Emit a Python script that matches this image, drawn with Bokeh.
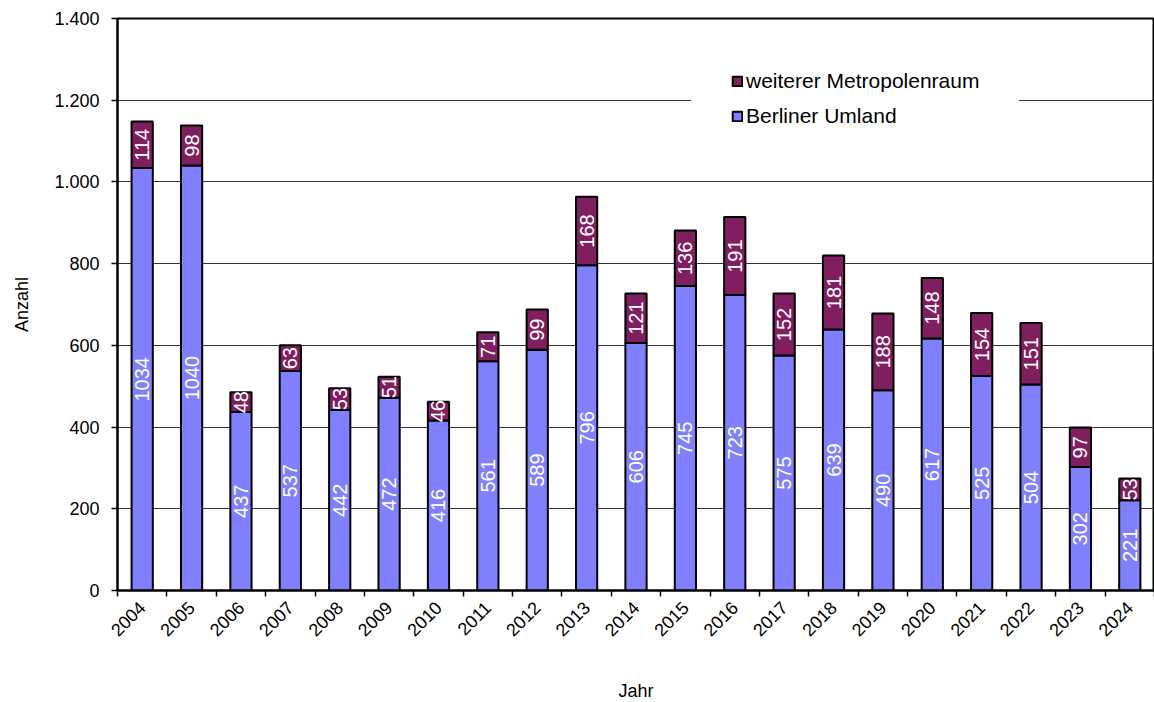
import math
from bokeh.plotting import figure
from bokeh.models import (ColumnDataSource, FixedTicker, CustomJSTickFormatter, Legend, LegendItem, Range1d)
from bokeh.core.properties import value
from bokeh.embed import file_html
from bokeh.resources import INLINE

years = ["2004", "2005", "2006", "2007", "2008", "2009", "2010", "2011", "2012", "2013", "2014",
         "2015", "2016", "2017", "2018", "2019", "2020", "2021", "2022", "2023", "2024"]
umland = [1034, 1040, 437, 537, 442, 472, 416, 561, 589, 796, 606, 745, 723, 575, 639, 490, 617, 525, 504, 302, 221]
weiterer = [114, 98, 48, 63, 53, 51, 46, 71, 99, 168, 121, 136, 191, 152, 181, 188, 148, 154, 151, 97, 53]
y_ticks = [0, 200, 400, 600, 800, 1000, 1200, 1400]

BLUE = "#8080FF"
PURPLE = "#7F1F5F"
FONT = "Liberation Sans"

n = len(years)
xs = [i + 0.5 for i in range(n)]
total = [u + w for u, w in zip(umland, weiterer)]
src = ColumnDataSource(dict(
    x=xs, umland=umland, weiterer=weiterer, total=total,
    u_mid=[u / 2 for u in umland],
    w_mid=[u + w / 2 for u, w in zip(umland, weiterer)],
    u_lbl=[str(u) for u in umland],
    w_lbl=[str(w) for w in weiterer],
))

p = figure(frame_width=1037, frame_height=572, output_backend="svg", toolbar_location=None,
           x_range=Range1d(0, n), y_range=Range1d(0, y_ticks[-1]),
           min_border_left=117, min_border_top=18, min_border_right=0, min_border_bottom=100)
p.background_fill_color = "white"
p.outline_line_color = "black"
p.outline_line_width = 2

r_u = p.vbar(x="x", width=0.43, bottom=0, top="umland", source=src,
             fill_color=BLUE, line_color="black", line_width=2)
r_w = p.vbar(x="x", width=0.43, bottom="umland", top="total", source=src,
             fill_color=PURPLE, line_color="black", line_width=2)

p.text(x="x", y="u_mid", text="u_lbl", source=src, angle=math.pi / 2,
       text_align="center", text_baseline="middle", text_color="white",
       text_font=value(FONT), text_font_size="20px")
p.text(x="x", y="w_mid", text="w_lbl", source=src, angle=math.pi / 2,
       text_align="center", text_baseline="middle", text_color="white",
       text_font=value(FONT), text_font_size="20px")

# grid
p.xgrid.grid_line_color = None
p.ygrid.ticker = FixedTicker(ticks=y_ticks)
p.ygrid.grid_line_color = "#333333"
p.ygrid.grid_line_width = 1

# y axis
p.yaxis.ticker = FixedTicker(ticks=y_ticks)
p.yaxis.formatter = CustomJSTickFormatter(code="""
var s = Math.round(tick).toString();
return s.replace(/\\B(?=(\\d{3})+(?!\\d))/g, '.');
""")
p.yaxis.axis_line_color = "black"
p.yaxis.axis_line_width = 2
p.yaxis.major_tick_in = 0
p.yaxis.major_tick_out = 6
p.yaxis.major_tick_line_width = 1.5
p.yaxis.minor_tick_line_color = None
p.yaxis.major_label_text_font = FONT
p.yaxis.major_label_text_font_size = "18px"
p.yaxis.major_label_text_color = "black"
p.yaxis.major_label_standoff = 12
p.yaxis.axis_label = "Anzahl"
p.yaxis.axis_label_text_font = FONT
p.yaxis.axis_label_text_font_size = "18px"
p.yaxis.axis_label_text_font_style = "normal"
p.yaxis.axis_label_text_color = "black"
p.yaxis.axis_label_standoff = 19

# x axis
p.xaxis.ticker = FixedTicker(ticks=xs, minor_ticks=list(range(n + 1)))
p.xaxis.formatter = CustomJSTickFormatter(args=dict(years=years),
                                          code="return years[Math.floor(tick)];")
p.xaxis.axis_line_color = "black"
p.xaxis.axis_line_width = 2
p.xaxis.major_tick_line_color = None
p.xaxis.minor_tick_line_color = "black"
p.xaxis.minor_tick_line_width = 1.5
p.xaxis.minor_tick_in = 0
p.xaxis.minor_tick_out = 6
p.xaxis.major_label_orientation = math.pi / 4
p.xaxis.major_label_text_font = FONT
p.xaxis.major_label_text_font_size = "18px"
p.xaxis.major_label_text_color = "black"
p.xaxis.major_label_standoff = 8
p.xaxis.axis_label = "Jahr"
p.xaxis.axis_label_text_font = FONT
p.xaxis.axis_label_text_font_size = "18px"
p.xaxis.axis_label_text_font_style = "normal"
p.xaxis.axis_label_text_color = "black"
p.xaxis.axis_label_standoff = 36

legend = Legend(items=[LegendItem(label="weiterer Metropolenraum", renderers=[r_w]),
                       LegendItem(label="Berliner Umland", renderers=[r_u])],
                location=(574, 422))
legend.background_fill_color = "white"
legend.background_fill_alpha = 1
legend.border_line_color = "white"
legend.border_line_alpha = 0
legend.glyph_width = 12
legend.glyph_height = 12
legend.label_standoff = 3
legend.label_text_font = FONT
legend.label_text_font_size = "21px"
legend.label_text_color = "black"
legend.label_height = 20
legend.spacing = 11
legend.padding = 40
legend.margin = 0
p.add_layout(legend)

open("out.html", "w").write(file_html(p, INLINE))
